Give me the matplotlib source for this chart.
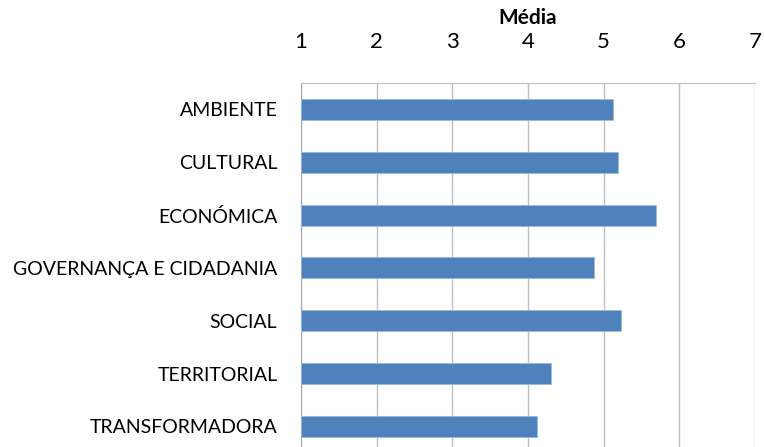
import matplotlib
matplotlib.use("Agg")
import matplotlib.pyplot as plt

categories = ["AMBIENTE", "CULTURAL", "ECONÓMICA", "GOVERNANÇA E CIDADANIA",
              "SOCIAL", "TERRITORIAL", "TRANSFORMADORA"]
medias = [5.12, 5.19, 5.69, 4.87, 5.23, 4.31, 4.12]
ticks = [1, 2, 3, 4, 5, 6, 7]

plt.rcParams['font.family'] = ['Lato', 'DejaVu Sans']

fig = plt.figure(figsize=(7.64, 4.47), dpi=100)
ax = fig.add_axes([0.394, -0.0128, 0.594, 0.827])

ypos = list(range(len(categories)))
ax.barh(ypos, [m - 1 for m in medias], left=1, height=0.4,
        color='#4F81BD', edgecolor='#9DBBE0', linewidth=0.6, zorder=3)

ax.set_xlim(1, 7)
ax.set_ylim(len(categories) - 0.5, -0.5)
ax.set_xticks(ticks)
ax.set_yticks(ypos)
ax.set_yticklabels(categories)
ax.xaxis.tick_top()
ax.xaxis.set_label_position('top')
ax.set_xlabel('Média', fontweight='bold', fontsize=15, labelpad=6)
ax.tick_params(axis='x', length=0, labelsize=16, pad=22)
ax.tick_params(axis='y', length=0, labelsize=14, pad=17)
ax.grid(axis='x', color='#BFBFBF', linewidth=1, zorder=0)

for side in ['right', 'bottom']:
    ax.spines[side].set_visible(False)
ax.spines['top'].set_color('#BFBFBF')
ax.spines['left'].set_color('#A6A6A6')

fig.savefig('out.png', dpi=100)
